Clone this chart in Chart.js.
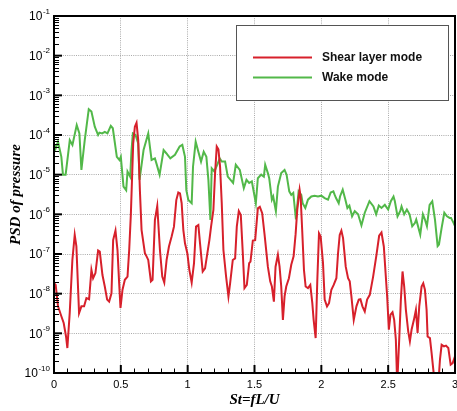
<!DOCTYPE html>
<html><head><meta charset="utf-8">
<script src="https://cdn.jsdelivr.net/npm/chart.js@4"></script>
<style>html,body{margin:0;padding:0;background:#fff}</style>
</head><body>
<canvas id="c" width="457" height="411"></canvas>
<script>
// ---- data (PSD values given as log10 exponents) ----
const stTicks = [0, 0.5, 1, 1.5, 2, 2.5, 3];
const decadeExps = [-10, -9, -8, -7, -6, -5, -4, -3, -2, -1];
const seriesNames = ['Shear layer mode', 'Wake mode'];
const seriesColors = ['#d7202b', '#52b849'];

const shearSt = [0.005,0.0125,0.03,0.055,0.0725,0.09,0.1,0.1175,0.1375,0.155,0.1675,0.1875,0.205,0.225,0.2425,0.2625,0.28,0.2925,0.31,0.33,0.3425,0.3625,0.38,0.3975,0.4125,0.43,0.4425,0.46,0.475,0.4875,0.4975,0.5125,0.53,0.55,0.5625,0.575,0.5925,0.605,0.6175,0.63,0.6425,0.655,0.68,0.6925,0.705,0.725,0.7375,0.755,0.7725,0.7925,0.81,0.825,0.8425,0.86,0.88,0.8975,0.915,0.93,0.9425,0.955,0.9675,0.98,0.9975,1.0125,1.03,1.0475,1.0625,1.08,1.0925,1.1125,1.13,1.1475,1.1625,1.175,1.1925,1.205,1.2175,1.23,1.2425,1.255,1.2675,1.2875,1.305,1.3175,1.3375,1.355,1.3675,1.3825,1.3975,1.4125,1.425,1.4425,1.46,1.47,1.4875,1.505,1.525,1.54,1.5575,1.575,1.6,1.6175,1.63,1.645,1.6575,1.675,1.6875,1.7,1.7125,1.725,1.7375,1.7575,1.775,1.7925,1.8075,1.82,1.8375,1.845,1.8575,1.87,1.8825,1.9,1.9175,1.9325,1.9425,1.9575,1.97,1.9825,1.995,2.0125,2.025,2.0425,2.0575,2.075,2.0925,2.1125,2.125,2.1375,2.15,2.1625,2.1825,2.2,2.2125,2.225,2.2425,2.2625,2.28,2.2925,2.3075,2.325,2.3425,2.3625,2.3875,2.4125,2.4325,2.45,2.4675,2.4825,2.4925,2.505,2.5175,2.5325,2.545,2.5575,2.5675,2.5825,2.595,2.6075,2.62,2.6325,2.65,2.6625,2.675,2.6925,2.7075,2.72,2.7325,2.75,2.7625,2.775,2.7875,2.795,2.8125,2.825,2.8375,2.85,2.875,2.8875,2.9,2.9175,2.9325,2.95,2.9675,2.9825,3.0];
const shearLog10 = [-7.75,-7.78,-8.32,-8.57,-8.74,-9.08,-9.37,-8.49,-7.15,-6.52,-6.81,-8.49,-8.32,-8.32,-8.11,-8.14,-7.40,-7.61,-7.48,-6.91,-6.94,-7.53,-7.82,-8.15,-8.20,-7.99,-6.65,-6.41,-6.90,-7.74,-8.36,-7.90,-7.65,-7.57,-6.90,-6.0,-4.21,-3.79,-3.69,-4.13,-5.39,-6.39,-6.98,-7.06,-7.15,-7.69,-7.65,-6.14,-5.79,-6.90,-7.57,-7.72,-7.15,-6.81,-6.56,-6.31,-5.64,-5.45,-5.47,-5.72,-6.39,-6.73,-6.98,-7.40,-7.72,-7.23,-6.31,-6.27,-6.73,-7.44,-7.36,-6.98,-6.65,-6.31,-5.89,-4.97,-4.29,-4.36,-4.80,-5.72,-6.90,-7.57,-8.07,-7.74,-7.15,-7.11,-6.31,-5.92,-6.02,-6.98,-7.86,-7.78,-7.23,-7.19,-6.66,-6.65,-5.85,-5.81,-5.97,-6.5,-7.32,-7.69,-7.82,-8.20,-7.32,-7.02,-7.32,-7.82,-8.66,-8.07,-7.82,-7.61,-7.27,-7.06,-6.50,-5.88,-5.38,-5.55,-6.45,-7.40,-7.82,-7.86,-7.78,-8.24,-8.66,-9.12,-7.65,-6.48,-6.56,-7.23,-8.15,-8.32,-8.24,-7.90,-7.78,-7.61,-6.98,-6.52,-6.41,-6.60,-7.32,-7.61,-7.69,-8.07,-8.66,-8.32,-8.15,-8.14,-8.32,-8.45,-8.15,-8.03,-7.57,-7.02,-6.54,-6.46,-6.81,-7.57,-8.07,-8.91,-8.53,-8.47,-8.66,-9.16,-10.3,-9.16,-8.15,-7.44,-7.82,-8.41,-8.95,-9.20,-8.91,-8.66,-8.41,-8.99,-8.32,-7.82,-7.74,-7.90,-8.41,-9.08,-9.12,-9.50,-9.91,-10.3,-10.3,-9.66,-9.29,-9.33,-9.31,-9.37,-9.79,-9.75,-9.58];

const wakeSt = [0.005,0.0125,0.03,0.055,0.067,0.087,0.118,0.138,0.17,0.19,0.205,0.23,0.26,0.28,0.305,0.33,0.34,0.36,0.38,0.40,0.425,0.44,0.47,0.49,0.50,0.52,0.54,0.55,0.57,0.58,0.59,0.61,0.63,0.64,0.67,0.705,0.73,0.755,0.77,0.79,0.82,0.84,0.87,0.905,0.94,0.96,0.98,0.99,1.005,1.03,1.04,1.06,1.08,1.10,1.12,1.14,1.155,1.17,1.18,1.20,1.22,1.24,1.255,1.28,1.30,1.34,1.36,1.39,1.42,1.44,1.46,1.48,1.51,1.525,1.55,1.57,1.58,1.60,1.61,1.63,1.64,1.66,1.675,1.70,1.725,1.74,1.76,1.775,1.79,1.81,1.83,1.85,1.86,1.88,1.90,1.925,1.95,1.975,2.0,2.025,2.05,2.07,2.09,2.10,2.11,2.13,2.14,2.16,2.18,2.195,2.21,2.23,2.25,2.275,2.30,2.325,2.36,2.39,2.41,2.43,2.45,2.475,2.50,2.52,2.54,2.55,2.57,2.59,2.60,2.62,2.64,2.66,2.68,2.70,2.71,2.74,2.76,2.775,2.79,2.81,2.83,2.85,2.87,2.88,2.90,2.92,2.94,2.96,2.97,2.99,3.0];
const wakeLog10 = [-4.25,-4.34,-4.17,-4.55,-5.0,-5.0,-4.13,-4.25,-3.75,-3.96,-4.88,-4.13,-3.35,-3.41,-3.79,-4.0,-3.94,-3.96,-3.92,-3.96,-3.77,-3.83,-4.55,-4.63,-4.55,-5.3,-5.39,-4.92,-5.05,-4.38,-3.96,-4.0,-4.21,-5.13,-4.38,-3.96,-4.63,-4.59,-4.76,-5.0,-4.38,-4.46,-4.59,-4.5,-4.29,-4.25,-4.55,-5.39,-5.64,-5.72,-4.8,-4.17,-4.42,-4.67,-4.42,-4.55,-5.13,-6.14,-4.84,-4.92,-4.76,-4.59,-4.67,-4.67,-5.05,-5.21,-4.75,-4.88,-5.34,-5.13,-5.21,-5.17,-5.72,-5.09,-5.0,-5.05,-4.75,-4.96,-5.09,-5.63,-5.55,-5.92,-5.30,-4.96,-4.88,-5.0,-5.42,-5.51,-5.46,-6.13,-5.42,-5.51,-5.72,-5.84,-5.63,-5.55,-5.53,-5.55,-5.53,-5.59,-5.63,-5.45,-5.42,-5.51,-5.59,-5.72,-5.55,-5.38,-5.63,-5.84,-5.78,-6.05,-5.92,-6.0,-6.28,-5.96,-5.67,-5.80,-6.0,-5.78,-5.84,-5.76,-5.88,-5.67,-5.55,-5.67,-6.05,-5.92,-5.80,-6.0,-5.88,-6.0,-6.30,-6.22,-6.13,-6.51,-6.0,-6.13,-6.30,-5.76,-5.67,-6.13,-6.80,-6.76,-6.34,-5.96,-6.05,-6.09,-6.09,-6.22,-6.30];

const toPoints = (xs, ls) => xs.map((x, i) => ({x: x, y: Math.pow(10, ls[i])}));

const frame = {
  id: 'frame',
  afterDraw(chart) {
    const ctx = chart.ctx, a = chart.chartArea;
    const xs = chart.scales.x, ys = chart.scales.y;
    ctx.save();
    ctx.strokeStyle = '#000';
    // left ticks
    decadeExps.forEach(e => {
      const y = ys.getPixelForValue(Math.pow(10, e));
      ctx.lineWidth = 2;
      ctx.beginPath(); ctx.moveTo(a.left, y); ctx.lineTo(a.left + 8, y); ctx.stroke();
      if (e < -1) {
        ctx.lineWidth = 1;
        for (let k = 2; k <= 9; k++) {
          const yy = Math.round(ys.getPixelForValue(k * Math.pow(10, e))) + 0.5;
          ctx.beginPath(); ctx.moveTo(a.left, yy); ctx.lineTo(a.left + 5, yy); ctx.stroke();
        }
      }
    });
    // bottom ticks
    for (let i = 0; i <= 30; i++) {
      const v = i / 10;
      const x = xs.getPixelForValue(v);
      const major = i % 5 === 0;
      ctx.lineWidth = major ? 2 : 1;
      const xx = major ? x : Math.round(x) + 0.5;
      ctx.beginPath(); ctx.moveTo(xx, a.bottom); ctx.lineTo(xx, a.bottom - (major ? 8 : 4.5)); ctx.stroke();
    }
    // frame
    ctx.lineWidth = 2;
    ctx.strokeRect(a.left, a.top, a.right - a.left, a.bottom - a.top);
    // y tick labels with superscript exponents
    ctx.fillStyle = '#000';
    ctx.textBaseline = 'middle';
    decadeExps.forEach(e => {
      const y = ys.getPixelForValue(Math.pow(10, e));
      const exp = String(e);
      ctx.font = '8px "Liberation Sans", Arial, sans-serif';
      ctx.textAlign = 'right';
      const ew = ctx.measureText(exp).width;
      ctx.fillText(exp, 50, y - 4.5);
      ctx.font = '12px "Liberation Sans", Arial, sans-serif';
      ctx.fillText('10', 50 - ew - 0.5, y + 1);
    });
    // axis titles
    ctx.font = 'bold italic 15px "Liberation Serif", "Times New Roman", serif';
    ctx.textAlign = 'center';
    ctx.fillText('St=fL/U', (a.left + a.right) / 2, 400);
    ctx.save();
    ctx.translate(16, (a.top + a.bottom) / 2);
    ctx.rotate(-Math.PI / 2);
    ctx.fillText('PSD of pressure', 0, 0);
    ctx.restore();
    // legend
    ctx.fillStyle = '#fff';
    ctx.fillRect(236, 25, 212, 76);
    ctx.lineWidth = 1;
    ctx.strokeStyle = '#555';
    ctx.strokeRect(236.5, 25.5, 212, 75);
    const rows = [57.5, 77.5];
    seriesNames.forEach((n, i) => {
      ctx.strokeStyle = seriesColors[i];
      ctx.lineWidth = 2;
      ctx.beginPath(); ctx.moveTo(253, rows[i]); ctx.lineTo(312, rows[i]); ctx.stroke();
      ctx.fillStyle = '#111';
      ctx.font = 'bold 12px "Liberation Sans", Arial, sans-serif';
      ctx.textAlign = 'left';
      ctx.fillText(n, 322, rows[i] + 0.5);
    });
    ctx.restore();
  }
};

new Chart(document.getElementById('c'), {
  type: 'line',
  data: {
    datasets: [
      {label: seriesNames[0], data: toPoints(shearSt, shearLog10), borderColor: seriesColors[0], borderWidth: 2, pointRadius: 0, tension: 0, fill: false},
      {label: seriesNames[1], data: toPoints(wakeSt, wakeLog10), borderColor: seriesColors[1], borderWidth: 2, pointRadius: 0, tension: 0, fill: false}
    ]
  },
  options: {
    responsive: false,
    animation: false,
    events: [],
    layout: {padding: {top: 16, right: 2, left: 0, bottom: 0}},
    plugins: {legend: {display: false}, tooltip: {enabled: false}},
    scales: {
      x: {
        type: 'linear', min: 0, max: 3,
        afterBuildTicks(s) { s.ticks = stTicks.map(v => ({value: v})); },
        afterFit(s) { s.height = 38; s.paddingLeft = 0; s.paddingRight = 0; },
        ticks: {color: '#000', padding: 5, font: {family: '"Liberation Sans", Arial, sans-serif', size: 11}, maxRotation: 0,
                callback: v => String(v)},
        grid: {drawTicks: false, color: '#aaaaaa', lineWidth: 1},
        border: {display: false, dash: [1, 1.2]}
      },
      y: {
        type: 'logarithmic', min: 1e-10, max: 1e-1,
        afterBuildTicks(s) { s.ticks = decadeExps.map(e => ({value: Math.pow(10, e)})); },
        afterFit(s) { s.width = 54; s.paddingTop = 0; s.paddingBottom = 0; },
        ticks: {display: false},
        grid: {drawTicks: false, color: '#aaaaaa', lineWidth: 1},
        border: {display: false, dash: [1, 1.2]}
      }
    }
  },
  plugins: [frame]
});
</script>
</body></html>
